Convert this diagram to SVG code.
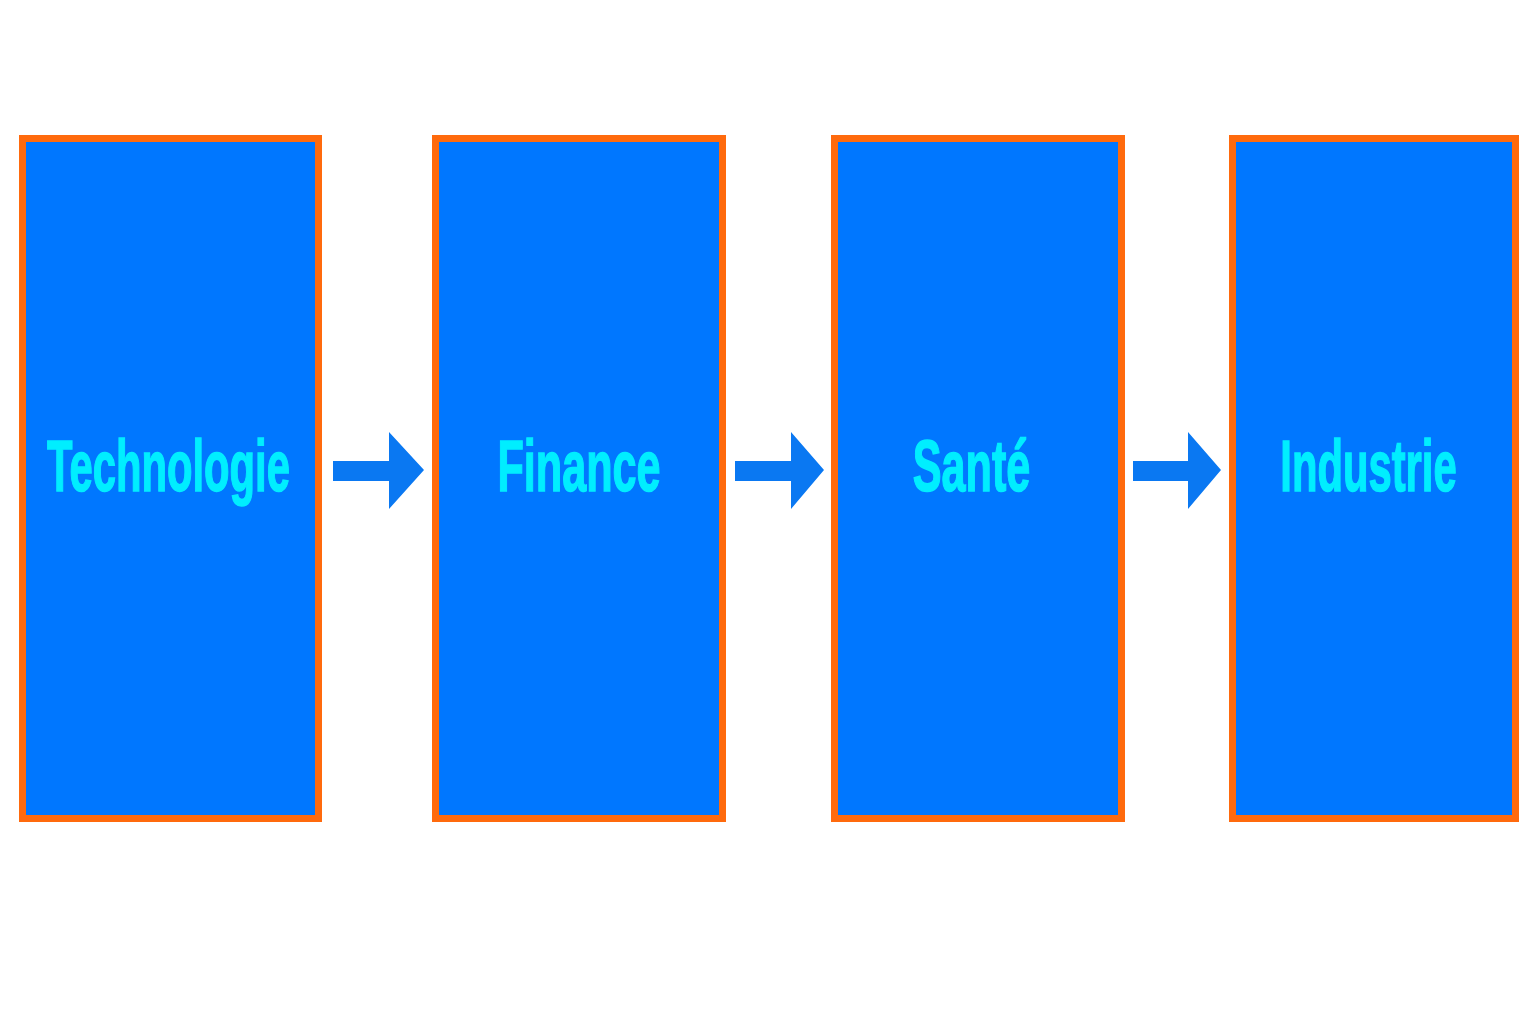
<svg xmlns="http://www.w3.org/2000/svg" width="1536" height="1024" viewBox="0 0 1536 1024">
<style>
.box{fill:#0077FF;stroke:#FF6A0D;stroke-width:7}
.lbl{font-family:"Liberation Sans",Arial,sans-serif;font-weight:bold;font-size:72px;fill:#00EEFF;stroke:#00EEFF;stroke-width:1.5;text-anchor:middle}
.arr{fill:#0A78F2}
</style>
<rect width="1536" height="1024" fill="#FFFFFF"/>
<g id="connectors">
<polygon class="arr" points="333,461 389,461 389,432 424,470 389,509 389,481 333,481"/>
<polygon class="arr" points="735,461 791,461 791,432 824,470 791,509 791,481 735,481"/>
<polygon class="arr" points="1133,461 1188,461 1188,432 1221,470 1188,509 1188,481 1133,481"/>
</g>
<g id="node-technologie">
<rect class="box" x="22.5" y="138.5" width="296" height="680"/>
<text class="lbl" transform="translate(168.5,491) scale(0.58,1)">Technologie</text>
</g>
<g id="node-finance">
<rect class="box" x="435.5" y="138.5" width="287" height="680"/>
<text class="lbl" transform="translate(579,491) scale(0.6,1)">Finance</text>
</g>
<g id="node-sante">
<rect class="box" x="834.5" y="138.5" width="287" height="680"/>
<text class="lbl" transform="translate(971.5,491) scale(0.6,1)">Santé</text>
</g>
<g id="node-industrie">
<rect class="box" x="1232.5" y="138.5" width="283" height="680"/>
<text class="lbl" transform="translate(1368.5,491) scale(0.58,1)">Industrie</text>
</g>
</svg>
